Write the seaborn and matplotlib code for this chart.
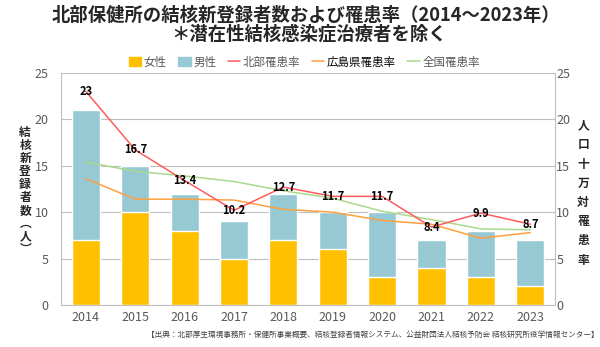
import matplotlib
matplotlib.use("Agg")
import matplotlib.pyplot as plt
import seaborn as sns
import pandas as pd
import numpy as np
from matplotlib.patches import Patch
from matplotlib.lines import Line2D

years = ["2014", "2015", "2016", "2017", "2018", "2019", "2020", "2021", "2022", "2023"]
female = [7, 10, 8, 5, 7, 6, 3, 4, 3, 2]
male = [14, 5, 4, 4, 5, 4, 7, 3, 5, 5]
north_rate = [23, 16.7, 13.4, 10.2, 12.7, 11.7, 11.7, 8.4, 9.9, 8.7]
hiroshima_rate = [13.6, 11.4, 11.4, 11.3, 10.3, 10.0, 9.1, 8.7, 7.2, 7.8]
national_rate = [15.4, 14.4, 13.9, 13.3, 12.3, 11.5, 10.1, 9.2, 8.2, 8.1]

sns.set_theme(style="white")
plt.rcParams['font.family'] = ['Noto Sans CJK JP', 'DejaVu Sans']

C_F = "#FFC000"
C_M = "#96C9D3"
C_N = "#FF5B5B"
C_H = "#FFA040"
C_J = "#A9D98B"
GRID = "#BFBFBF"
TICK = "#595959"

df = pd.DataFrame({"year": years, "female": female, "male": male,
                   "total": np.array(female) + np.array(male),
                   "north": north_rate, "hiro": hiroshima_rate, "nat": national_rate})

fig = plt.figure(figsize=(6, 3.47), dpi=100)
ax = fig.add_axes([0.102, 0.121, 0.823, 0.669])

sns.barplot(data=df, x="year", y="total", color=C_M, width=0.57, saturation=1, ax=ax, zorder=2)
sns.barplot(data=df, x="year", y="female", color=C_F, width=0.57, saturation=1, ax=ax, zorder=3)
ax.set_ylim(0, 25)
ax.set_yticks([0, 5, 10, 15, 20, 25])
ax.yaxis.grid(True, color=GRID, linewidth=0.8, zorder=0)
ax.set_axisbelow(True)
ax.set_xlabel("")
ax.set_ylabel("")
ax.tick_params(axis="both", labelsize=9, colors=TICK, length=0, pad=4)
ax.tick_params(axis="y", pad=9)
for s in ["top", "right"]:
    ax.spines[s].set_visible(False)
for s in ["left", "bottom"]:
    ax.spines[s].set_color(GRID)
    ax.spines[s].set_linewidth(0.8)

ax2 = ax.twinx()
sns.lineplot(data=df, x="year", y="hiro", color=C_H, linewidth=1.1, ax=ax2, sort=False)
sns.lineplot(data=df, x="year", y="nat", color=C_J, linewidth=1.1, ax=ax2, sort=False)
sns.lineplot(data=df, x="year", y="north", color=C_N, linewidth=1.1, ax=ax2, sort=False)
ax2.set_ylim(0, 25)
ax2.set_yticks([0, 5, 10, 15, 20, 25])
ax2.set_ylabel("")
ax2.tick_params(axis="y", labelsize=9, colors=TICK, length=0, pad=1)
for s in ["top", "left", "bottom"]:
    ax2.spines[s].set_visible(False)
ax2.spines["right"].set_color(GRID)
ax2.spines["right"].set_linewidth(0.8)
ax.set_xlim(-0.5, len(years) - 0.5)

for i, v in enumerate(north_rate):
    label = f"{v:g}"
    ax2.annotate(label, (i, v), xytext=(0, 0), textcoords="offset points",
                 ha="center", va="center", fontsize=8, fontweight="bold", color="black",
                 zorder=5)

fig.text(0.51, 0.957, "北部保健所の結核新登録者数および罹患率（2014～2023年）",
         ha="center", va="center", fontsize=13.2, fontweight="bold")
fig.text(0.515, 0.903, "＊潜在性結核感染症治療者を除く",
         ha="center", va="center", fontsize=13.2, fontweight="bold")

handles = [Patch(color=C_F), Patch(color=C_M),
           Line2D([], [], color=C_N, lw=1.1), Line2D([], [], color=C_H, lw=1.1),
           Line2D([], [], color=C_J, lw=1.1)]
labels = ["女性", "男性", "北部罹患率", "広島県罹患率", "全国罹患率"]
leg = fig.legend(handles, labels, loc="center", bbox_to_anchor=(0.507, 0.821), ncol=5,
                 frameon=False, fontsize=8.3, handlelength=1.1, handleheight=0.8,
                 handletextpad=0.2, columnspacing=1.0)
for t in leg.get_texts():
    t.set_color(TICK)
leg.get_texts()[3].set_color("black")

fig.text(0.042, 0.45, "\n".join("結核新登録者数") + "\n︵\n人\n︶", ha="center", va="center",
         fontsize=8.5, fontweight="bold", linespacing=1.0)
fig.text(0.972, 0.444, "\n".join("人口十万対罹患率"), ha="center", va="center",
         fontsize=8.5, fontweight="bold", linespacing=1.62)

fig.text(0.997, 0.035, "【出典：北部厚生環境事務所・保健所事業概要、結核登録者情報システム、公益財団法人結核予防会 結核研究所疫学情報センター】",
         ha="right", va="center", fontsize=5.5, color="#404040")

fig.savefig("out.png", dpi=100)
